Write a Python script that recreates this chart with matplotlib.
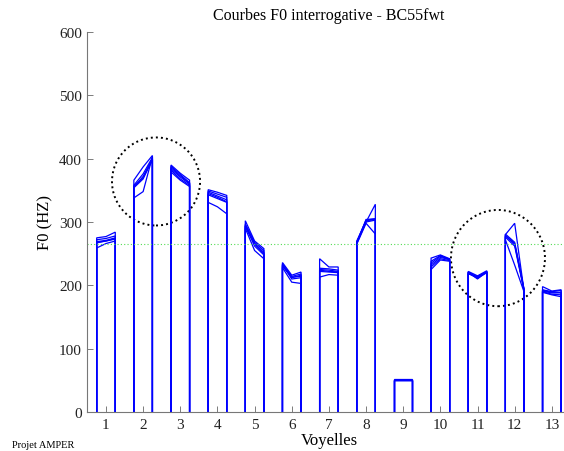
import matplotlib
matplotlib.use("Agg")
import matplotlib.pyplot as plt
from matplotlib.patches import Ellipse

plt.rcParams['font.family'] = ['Liberation Serif', 'DejaVu Serif']

# Vowel indices
vowels = list(range(1, 14))

# F0 (Hz) of each repetition at the start, middle and end of each vowel
f0_v1 = [[275, 277, 284], [272, 274, 278], [269, 271, 275], [268, 270, 274], [267, 270, 273], [259, 266, 270]]
f0_v2 = [[366, 387, 405], [358, 376, 402], [355, 372, 400], [356, 370, 398], [354, 368, 399], [338, 348, 403]]
f0_v3 = [[390, 377, 366], [388, 375, 362], [386, 373, 361], [384, 371, 360], [382, 368, 358], [379, 366, 356]]
f0_v4 = [[351, 347, 342], [349, 344, 339], [347, 341, 335], [345, 339, 332], [343, 337, 331], [331, 324, 313]]
f0_v5 = [[302, 270, 258], [297, 268, 255], [295, 266, 252], [293, 265, 250], [294, 262, 248], [290, 255, 242]]
f0_v6 = [[236, 216, 221], [234, 214, 218], [232, 212, 216], [230, 213, 214], [233, 210, 212], [228, 205, 203]]
f0_v7 = [[242, 229, 229], [227, 226, 224], [225, 224, 222], [224, 222, 221], [222, 221, 220], [213, 217, 216]]
f0_v8 = [[268, 300, 328], [267, 304, 305], [268, 303, 305], [270, 302, 304], [266, 300, 303], [265, 298, 281]]
f0_v9 = [[51, 51, 51], [51, 51, 51], [50, 50, 50], [51, 51, 51], [52, 52, 52], [51, 51, 51]]
f0_v10 = [[243, 248, 242], [238, 247, 241], [235, 246, 240], [232, 244, 241], [229, 242, 239], [225, 240, 238]]
f0_v11 = [[222, 215, 223], [221, 213, 222], [220, 212, 221], [219, 211, 220], [221, 210, 222], [218, 214, 221]]
f0_v12 = [[280, 298, 192], [281, 268, 194], [279, 266, 195], [278, 265, 193], [276, 262, 192], [272, 232, 190]]
f0_v13 = [[198, 191, 193], [193, 190, 192], [192, 189, 189], [191, 188, 188], [190, 186, 185], [189, 185, 182]]

f0_all = [f0_v1, f0_v2, f0_v3, f0_v4, f0_v5, f0_v6, f0_v7,
          f0_v8, f0_v9, f0_v10, f0_v11, f0_v12, f0_v13]

mean_f0 = 265

fig = plt.figure(figsize=(5.64, 4.52), dpi=100)
ax = fig.add_axes([87.4 / 564, 39 / 452, 483 / 564, 380 / 452])

half = 0.25
for v, reps in zip(vowels, f0_all):
    for start, mid, end in reps:
        xs = [v - half, v - half, v, v + half, v + half]
        ys = [0, start, mid, end, 0]
        ax.plot(xs, ys, color=(0, 0, 1), lw=0.9, solid_joinstyle='miter')

ax.axhline(mean_f0, color='#55dd55', lw=0.8, ls=(0, (1, 2)))

# Highlighted regions
for cx, cy, w, h in [(2.347, 364, 2.37, 139), (11.55, 243, 2.53, 152)]:
    ax.add_patch(Ellipse((cx, cy), w, h, fill=False, edgecolor='black',
                         lw=1.4, ls=(0, (1, 1.6))))

ax.set_xlim(0.5, 13.5)
ax.set_ylim(0, 600)
ax.set_xticks(vowels)
ax.set_yticks(range(0, 601, 100))
ax.tick_params(direction='in', length=4, width=0.6, colors='#666666',
               labelcolor='#222222', labelsize=11, pad=4)
for side in ['top', 'right']:
    ax.spines[side].set_visible(False)
for side in ['left', 'bottom']:
    ax.spines[side].set_color('#777777')
    ax.spines[side].set_linewidth(0.8)

ax.set_title('Courbes F0 interrogative - BC55fwt', fontsize=11.5, pad=9)
ax.set_xlabel('Voyelles', fontsize=12, labelpad=1)
ax.set_ylabel('F0 (HZ)', fontsize=12, labelpad=4)

fig.text(12 / 564, 2 / 452, 'Projet AMPER', fontsize=7.5, va='bottom', ha='left')

fig.savefig('out.png', dpi=100)
